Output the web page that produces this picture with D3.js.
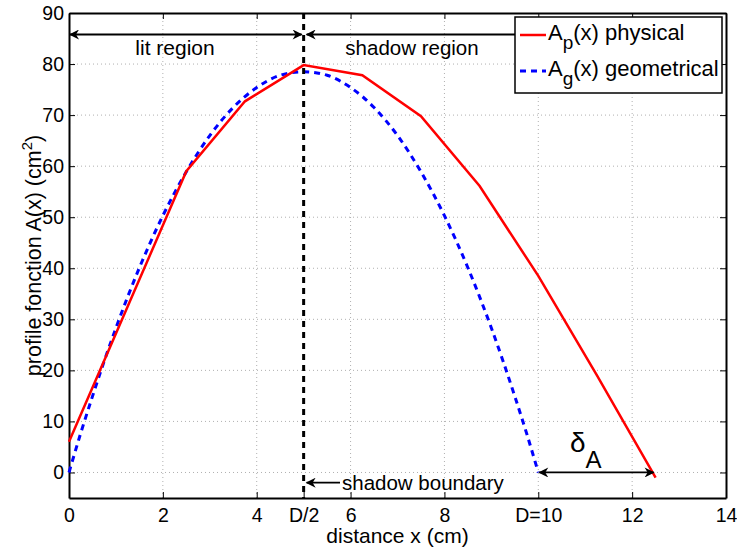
<!DOCTYPE html>
<html><head><meta charset="utf-8">
<script src="https://cdn.jsdelivr.net/npm/d3@7"></script>
<style>body{margin:0;background:#fff}text{font-family:"Liberation Sans",Arial,sans-serif}</style>
</head><body><svg id="c" width="737" height="549"></svg>
<script>
const physX = [0, 1.25, 2.5, 3.75, 5, 6.25, 7.5, 8.75, 10, 11.25, 12.5];
const physY = [6, 32.5, 59, 72.7, 79.8, 77.8, 69.8, 56.1, 38.5, 19, -1];
const geoX = [0, 0.25, 0.5, 0.75, 1, 1.5, 2, 2.5, 3, 3.5, 4, 4.5, 5, 5.5, 6, 6.5, 7, 7.5, 8, 8.5, 9, 9.25, 9.5, 9.75, 10];
const geoY = [0, 7.7, 14.9, 21.8, 28.3, 40.1, 50.3, 58.9, 66.0, 71.5, 75.4, 77.8, 78.5, 77.8, 75.4, 71.5, 66.0, 58.9, 50.3, 40.1, 28.3, 21.8, 14.9, 7.7, 0];
const xTickVals = [0, 2, 4, 5, 6, 8, 10, 12, 14];
const xTickLabels = ["0", "2", "4", "D/2", "6", "8", "D=10", "12", "14"];
const yTickVals = [0, 10, 20, 30, 40, 50, 60, 70, 80, 90];

const svg = d3.select("#c");
const L = 69, R = 726, T = 13, B = 498;
const FS = 19.5;
const x = d3.scaleLinear().domain([0, 14]).range([L, R]);
const y = d3.scaleLinear().domain([-5, 90]).range([B, T]);

// grid
const g = svg.append("g");
xTickVals.forEach(v => { if (v>0 && v<14 && v!==5) g.append("line").attr("x1",x(v)).attr("x2",x(v)).attr("y1",T).attr("y2",B).attr("stroke","#b0b0b0").attr("stroke-width",1).attr("stroke-dasharray","1,3"); });
yTickVals.forEach(v => { if (v<90) g.append("line").attr("x1",L).attr("x2",R).attr("y1",y(v)).attr("y2",y(v)).attr("stroke","#b0b0b0").attr("stroke-width",1).attr("stroke-dasharray","1,3"); });

// axes
const xAxB = d3.axisBottom(x).tickValues(xTickVals).tickFormat((d,i)=>xTickLabels[i]).tickSizeInner(-6).tickSizeOuter(0).tickPadding(10);
const xAxT = d3.axisTop(x).tickValues(xTickVals).tickFormat("").tickSizeInner(-6).tickSizeOuter(0);
const yAxL = d3.axisLeft(y).tickValues(yTickVals).tickSizeInner(-6).tickSizeOuter(0).tickPadding(5);
const yAxR = d3.axisRight(y).tickValues(yTickVals).tickFormat("").tickSizeInner(-6).tickSizeOuter(0);
function style(sel){ sel.attr("font-size",FS); sel.selectAll("path").attr("stroke","#000").attr("stroke-width",2); sel.selectAll("line").attr("stroke","#000").attr("stroke-width",1); sel.selectAll("text").attr("font-size",FS).attr("fill","#000").attr("font-family","Liberation Sans, Arial, sans-serif"); }
style(svg.append("g").attr("transform",`translate(0,${B})`).call(xAxB));
style(svg.append("g").attr("transform",`translate(0,${T})`).call(xAxT));
style(svg.append("g").attr("transform",`translate(${L},0)`).call(yAxL));
style(svg.append("g").attr("transform",`translate(${R},0)`).call(yAxR));

// lines
svg.append("path").datum(geoX.map((v,i)=>[v,geoY[i]])).attr("d",d3.line().x(d=>x(d[0])).y(d=>y(d[1])).curve(d3.curveMonotoneX)).attr("fill","none").attr("stroke","#0000ff").attr("stroke-width",3).attr("stroke-dasharray","6,5");
svg.append("path").datum(physX.map((v,i)=>[v,physY[i]])).attr("d",d3.line().x(d=>x(d[0])).y(d=>y(d[1]))).attr("fill","none").attr("stroke","#ff0000").attr("stroke-width",2.5);

// vertical dashed at D/2
svg.append("line").attr("x1",x(5)).attr("x2",x(5)).attr("y1",T).attr("y2",B).attr("stroke","#000").attr("stroke-width",3).attr("stroke-dasharray","6,5");

// arrow markers
const defs = svg.append("defs");
defs.append("marker").attr("id","ah").attr("viewBox","0 0 10 10").attr("refX",9).attr("refY",5).attr("markerWidth",11).attr("markerHeight",10).attr("markerUnits","userSpaceOnUse").attr("orient","auto-start-reverse")
  .append("path").attr("d","M0,0 L10,5 L0,10 L3,5 Z").attr("fill","#000");
function arrow(x1,y1,x2,y2,start,end){
  const l = svg.append("line").attr("x1",x1).attr("y1",y1).attr("x2",x2).attr("y2",y2).attr("stroke","#000").attr("stroke-width",1.8);
  if (start) l.attr("marker-start","url(#ah)");
  if (end) l.attr("marker-end","url(#ah)");
}
const yTop = 34.5;
arrow(x(0)+1, yTop, x(5)-2, yTop, true, true);
arrow(x(5)+3, yTop, 516, yTop, true, false);
svg.append("text").attr("x",175).attr("y",55).attr("text-anchor","middle").attr("font-size",21).text("lit region");
svg.append("text").attr("x",412).attr("y",55).attr("text-anchor","middle").attr("font-size",20.5).text("shadow region");
arrow(x(5)+3, y(-2), 340, y(-2), true, false);
svg.append("text").attr("x",342).attr("y",490).attr("font-size",20.5).text("shadow boundary");
arrow(x(10)+1, y(0), x(12.5)-2, y(0), true, true);
const dt = svg.append("text").attr("x",570).attr("y",452).attr("font-size",28);
dt.append("tspan").text("δ");
dt.append("tspan").attr("font-size",24).attr("dy",16).text("A");

// axis labels
svg.append("text").attr("x",(L+R)/2).attr("y",543).attr("text-anchor","middle").attr("font-size",21).text("distance x (cm)");
const yl = svg.append("text").attr("transform",`translate(41,${(T+B)/2}) rotate(-90)`).attr("text-anchor","middle").attr("font-size",21.5);
yl.append("tspan").text("profile fonction A(x) (cm");
yl.append("tspan").attr("font-size",15).attr("dy",-9).text("2");
yl.append("tspan").attr("dy",9).text(")");

// legend
const lg = svg.append("g");
lg.append("rect").attr("x",515).attr("y",17).attr("width",207).attr("height",76).attr("fill","#fff").attr("stroke","#000").attr("stroke-width",1.5);
lg.append("line").attr("x1",520).attr("x2",546).attr("y1",35).attr("y2",35).attr("stroke","#ff0000").attr("stroke-width",2.5);
lg.append("line").attr("x1",520).attr("x2",546).attr("y1",71).attr("y2",71).attr("stroke","#0000ff").attr("stroke-width",3).attr("stroke-dasharray","6,5");
const t1 = lg.append("text").attr("x",548).attr("y",40).attr("font-size",22);
t1.append("tspan").text("A"); t1.append("tspan").attr("font-size",19).attr("dy",9).text("p"); t1.append("tspan").attr("dy",-9).text("(x) physical");
const t2 = lg.append("text").attr("x",548).attr("y",76).attr("font-size",22);
t2.append("tspan").text("A"); t2.append("tspan").attr("font-size",19).attr("dy",9).text("g"); t2.append("tspan").attr("dy",-9).text("(x) geometrical");
</script></body></html>
